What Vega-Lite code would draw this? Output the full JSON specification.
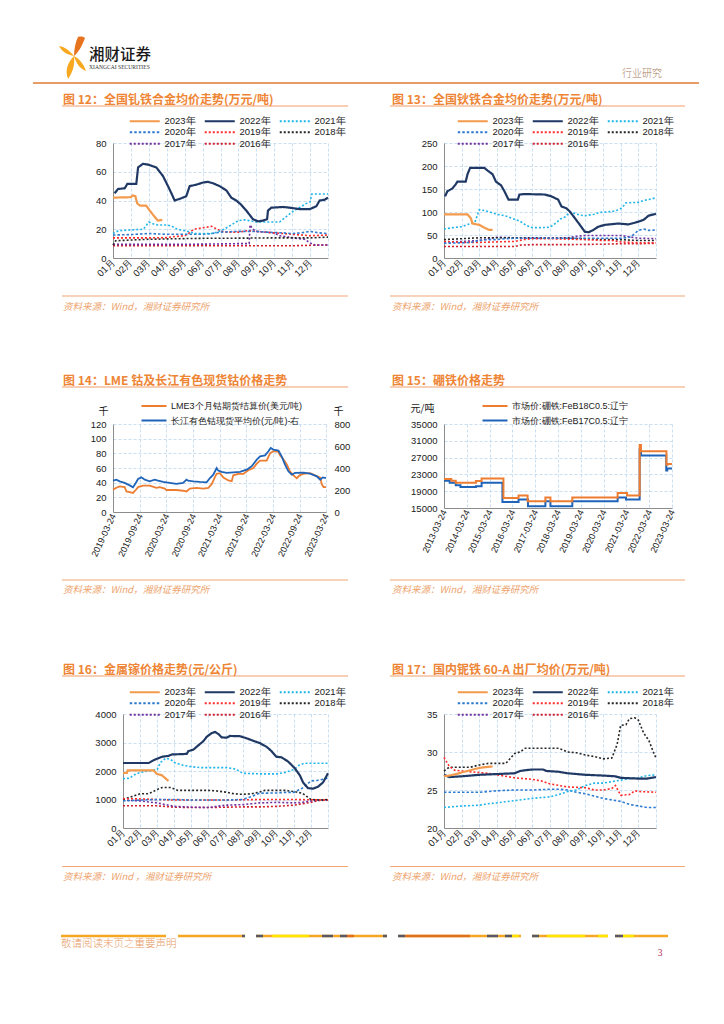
{
"$schema":"https://vega.github.io/schema/vega-lite/v6.json",
"background":"white",
"padding":0,
"autosize":{"type":"pad"},
"columns":2,
"bounds":"flush",
"spacing":{"row":0,"column":116},
"resolve":{"scale":{"color":"independent","strokeDash":"independent"},"legend":{"color":"independent","strokeDash":"independent"}},
"config":{
 "view":{"stroke":null},
 "font":"Liberation Sans",
 "axis":{"labelFont":"Liberation Sans","labelFontSize":9.5,"labelColor":"#1a1a1a","domainColor":"#8c8c8c","domainWidth":1,"ticks":false,"gridColor":"#BDD7EE","gridDash":[3,2],"gridWidth":0.8,"labelOverlap":false,"labelFlush":false,"titleFont":"Noto Sans CJK SC","titleFontWeight":"normal","titleFontSize":10,"titleColor":"#1a1a1a"},
 "legend":{"labelFont":"Liberation Sans","labelColor":"#1a1a1a"}
},
"datasets":{
"c12":[
{"m":1,"v":8.5,"s":"2016年"},{"m":3,"v":8.5,"s":"2016年"},{"m":5,"v":8.5,"s":"2016年"},{"m":7,"v":8.5,"s":"2016年"},{"m":9,"v":8.5,"s":"2016年"},{"m":11,"v":8.5,"s":"2016年"},{"m":12.5,"v":9,"s":"2016年"},{"m":13,"v":9,"s":"2016年"},
{"m":1,"v":9.5,"s":"2017年"},{"m":3,"v":9.5,"s":"2017年"},{"m":5,"v":9.5,"s":"2017年"},{"m":7,"v":9.8,"s":"2017年"},{"m":8,"v":10,"s":"2017年"},{"m":8.6,"v":10,"s":"2017年"},{"m":8.65,"v":23,"s":"2017年"},{"m":8.8,"v":20,"s":"2017年"},{"m":9,"v":18.5,"s":"2017年"},{"m":9.5,"v":18,"s":"2017年"},{"m":10,"v":17.5,"s":"2017年"},{"m":10.3,"v":15.5,"s":"2017年"},{"m":10.8,"v":14.5,"s":"2017年"},{"m":11.3,"v":13.5,"s":"2017年"},{"m":11.7,"v":13,"s":"2017年"},{"m":12,"v":10.5,"s":"2017年"},{"m":12.3,"v":9,"s":"2017年"},{"m":13,"v":9,"s":"2017年"},
{"m":1,"v":9,"s":"2018年"},{"m":1.15,"v":12,"s":"2018年"},{"m":2,"v":12.5,"s":"2018年"},{"m":3,"v":13,"s":"2018年"},{"m":4,"v":13.3,"s":"2018年"},{"m":5,"v":13.5,"s":"2018年"},{"m":6,"v":13.7,"s":"2018年"},{"m":8,"v":13.8,"s":"2018年"},{"m":10,"v":14,"s":"2018年"},{"m":12,"v":14,"s":"2018年"},{"m":13,"v":14.5,"s":"2018年"},
{"m":1,"v":14,"s":"2019年"},{"m":2,"v":14,"s":"2019年"},{"m":3,"v":14,"s":"2019年"},{"m":4,"v":14.2,"s":"2019年"},{"m":4.5,"v":15,"s":"2019年"},{"m":5,"v":15.5,"s":"2019年"},{"m":5.2,"v":17,"s":"2019年"},{"m":5.5,"v":20,"s":"2019年"},{"m":6,"v":21,"s":"2019年"},{"m":6.5,"v":22,"s":"2019年"},{"m":6.9,"v":19.5,"s":"2019年"},{"m":7.2,"v":18,"s":"2019年"},{"m":8,"v":18,"s":"2019年"},{"m":8.5,"v":19,"s":"2019年"},{"m":9,"v":18.5,"s":"2019年"},{"m":9.5,"v":18,"s":"2019年"},{"m":10,"v":17.5,"s":"2019年"},{"m":11,"v":16.5,"s":"2019年"},{"m":12,"v":15.5,"s":"2019年"},{"m":13,"v":16,"s":"2019年"},
{"m":1,"v":16,"s":"2020年"},{"m":2,"v":16.3,"s":"2020年"},{"m":3,"v":17,"s":"2020年"},{"m":4,"v":16.5,"s":"2020年"},{"m":5,"v":16.5,"s":"2020年"},{"m":6,"v":16.5,"s":"2020年"},{"m":6.5,"v":17,"s":"2020年"},{"m":7,"v":18,"s":"2020年"},{"m":8,"v":18.5,"s":"2020年"},{"m":9,"v":18.5,"s":"2020年"},{"m":9.5,"v":18,"s":"2020年"},{"m":10.5,"v":17.5,"s":"2020年"},{"m":11,"v":17,"s":"2020年"},{"m":11.5,"v":17.5,"s":"2020年"},{"m":12,"v":18.5,"s":"2020年"},{"m":12.5,"v":17.5,"s":"2020年"},{"m":13,"v":17,"s":"2020年"},
{"m":1,"v":17,"s":"2021年"},{"m":1.3,"v":19,"s":"2021年"},{"m":2,"v":19.5,"s":"2021年"},{"m":2.7,"v":20,"s":"2021年"},{"m":3,"v":25,"s":"2021年"},{"m":3.3,"v":23.5,"s":"2021年"},{"m":3.5,"v":23,"s":"2021年"},{"m":4,"v":23,"s":"2021年"},{"m":4.3,"v":22,"s":"2021年"},{"m":4.6,"v":20,"s":"2021年"},{"m":5,"v":19,"s":"2021年"},{"m":5.3,"v":18,"s":"2021年"},{"m":5.6,"v":17,"s":"2021年"},{"m":6.5,"v":17,"s":"2021年"},{"m":6.8,"v":18,"s":"2021年"},{"m":7.2,"v":20,"s":"2021年"},{"m":7.6,"v":23,"s":"2021年"},{"m":8,"v":26,"s":"2021年"},{"m":8.3,"v":26.5,"s":"2021年"},{"m":8.6,"v":26,"s":"2021年"},{"m":9,"v":25,"s":"2021年"},{"m":10.3,"v":25,"s":"2021年"},{"m":10.6,"v":28,"s":"2021年"},{"m":11,"v":32,"s":"2021年"},{"m":11.4,"v":35,"s":"2021年"},{"m":11.8,"v":38,"s":"2021年"},{"m":12,"v":39,"s":"2021年"},{"m":12.1,"v":44.5,"s":"2021年"},{"m":13,"v":44.5,"s":"2021年"},
{"m":1.09,"v":45,"s":"2022年"},{"m":1.28,"v":48,"s":"2022年"},{"m":1.65,"v":48.5,"s":"2022年"},{"m":1.8,"v":51.5,"s":"2022年"},{"m":2.3,"v":51.5,"s":"2022年"},{"m":2.4,"v":63,"s":"2022年"},{"m":2.67,"v":65.5,"s":"2022年"},{"m":2.95,"v":65,"s":"2022年"},{"m":3.42,"v":63,"s":"2022年"},{"m":3.79,"v":57,"s":"2022年"},{"m":4.07,"v":50,"s":"2022年"},{"m":4.26,"v":45,"s":"2022年"},{"m":4.44,"v":40,"s":"2022年"},{"m":4.81,"v":41.5,"s":"2022年"},{"m":5.09,"v":43,"s":"2022年"},{"m":5.28,"v":50,"s":"2022年"},{"m":5.65,"v":51,"s":"2022年"},{"m":6.02,"v":52.5,"s":"2022年"},{"m":6.3,"v":53,"s":"2022年"},{"m":6.58,"v":52,"s":"2022年"},{"m":6.95,"v":50,"s":"2022年"},{"m":7.33,"v":47,"s":"2022年"},{"m":7.6,"v":42,"s":"2022年"},{"m":7.88,"v":40,"s":"2022年"},{"m":8.16,"v":37,"s":"2022年"},{"m":8.44,"v":33,"s":"2022年"},{"m":8.81,"v":27,"s":"2022年"},{"m":9.09,"v":25.5,"s":"2022年"},{"m":9.37,"v":26,"s":"2022年"},{"m":9.6,"v":27,"s":"2022年"},{"m":9.65,"v":33,"s":"2022年"},{"m":9.84,"v":35,"s":"2022年"},{"m":10.49,"v":35.5,"s":"2022年"},{"m":10.86,"v":35,"s":"2022年"},{"m":11.42,"v":34,"s":"2022年"},{"m":11.98,"v":34,"s":"2022年"},{"m":12.35,"v":36,"s":"2022年"},{"m":12.53,"v":40,"s":"2022年"},{"m":12.81,"v":40.5,"s":"2022年"},{"m":13,"v":42,"s":"2022年"},
{"m":1,"v":42,"s":"2023年"},{"m":2,"v":42.3,"s":"2023年"},{"m":2.1,"v":43.5,"s":"2023年"},{"m":2.25,"v":43,"s":"2023年"},{"m":2.35,"v":38,"s":"2023年"},{"m":2.5,"v":36.5,"s":"2023年"},{"m":2.85,"v":36.5,"s":"2023年"},{"m":3.05,"v":33,"s":"2023年"},{"m":3.3,"v":29,"s":"2023年"},{"m":3.5,"v":26,"s":"2023年"},{"m":3.75,"v":26.5,"s":"2023年"}
],
"c13":[
{"m":1,"v":25,"s":"2016年"},{"m":3,"v":25,"s":"2016年"},{"m":5,"v":25,"s":"2016年"},{"m":5.3,"v":28,"s":"2016年"},{"m":6,"v":29,"s":"2016年"},{"m":8,"v":29,"s":"2016年"},{"m":10,"v":30,"s":"2016年"},{"m":11,"v":31,"s":"2016年"},{"m":12,"v":31,"s":"2016年"},{"m":13,"v":32,"s":"2016年"},
{"m":1,"v":35,"s":"2017年"},{"m":2,"v":36,"s":"2017年"},{"m":3,"v":38,"s":"2017年"},{"m":3.5,"v":42,"s":"2017年"},{"m":4,"v":45,"s":"2017年"},{"m":5,"v":44,"s":"2017年"},{"m":6,"v":44,"s":"2017年"},{"m":7,"v":44,"s":"2017年"},{"m":8,"v":44,"s":"2017年"},{"m":8.5,"v":47,"s":"2017年"},{"m":9,"v":49,"s":"2017年"},{"m":10,"v":49,"s":"2017年"},{"m":11,"v":49,"s":"2017年"},{"m":11.5,"v":46,"s":"2017年"},{"m":12,"v":43,"s":"2017年"},{"m":13,"v":42,"s":"2017年"},
{"m":1,"v":40,"s":"2018年"},{"m":2,"v":42,"s":"2018年"},{"m":3,"v":44,"s":"2018年"},{"m":4,"v":44,"s":"2018年"},{"m":5,"v":44,"s":"2018年"},{"m":6,"v":43,"s":"2018年"},{"m":7,"v":43,"s":"2018年"},{"m":8,"v":43,"s":"2018年"},{"m":9,"v":42,"s":"2018年"},{"m":10,"v":40,"s":"2018年"},{"m":11,"v":40,"s":"2018年"},{"m":12,"v":38,"s":"2018年"},{"m":13,"v":38,"s":"2018年"},
{"m":1,"v":36,"s":"2019年"},{"m":2,"v":34,"s":"2019年"},{"m":3,"v":34,"s":"2019年"},{"m":4,"v":35,"s":"2019年"},{"m":5,"v":36,"s":"2019年"},{"m":5.5,"v":40,"s":"2019年"},{"m":6,"v":42,"s":"2019年"},{"m":7,"v":42,"s":"2019年"},{"m":8,"v":41,"s":"2019年"},{"m":9,"v":40,"s":"2019年"},{"m":10,"v":38,"s":"2019年"},{"m":10.5,"v":38,"s":"2019年"},{"m":11,"v":35,"s":"2019年"},{"m":12,"v":33,"s":"2019年"},{"m":13,"v":33,"s":"2019年"},
{"m":1,"v":32,"s":"2020年"},{"m":2,"v":33,"s":"2020年"},{"m":2.5,"v":34,"s":"2020年"},{"m":3,"v":38,"s":"2020年"},{"m":3.5,"v":40,"s":"2020年"},{"m":4,"v":40,"s":"2020年"},{"m":4.5,"v":42,"s":"2020年"},{"m":5,"v":43,"s":"2020年"},{"m":7,"v":43,"s":"2020年"},{"m":9,"v":43,"s":"2020年"},{"m":11,"v":43,"s":"2020年"},{"m":11.5,"v":45,"s":"2020年"},{"m":11.7,"v":50,"s":"2020年"},{"m":12,"v":60,"s":"2020年"},{"m":12.3,"v":63,"s":"2020年"},{"m":12.6,"v":60,"s":"2020年"},{"m":13,"v":61,"s":"2020年"},
{"m":1,"v":63,"s":"2021年"},{"m":1.5,"v":66,"s":"2021年"},{"m":2,"v":68,"s":"2021年"},{"m":2.5,"v":75,"s":"2021年"},{"m":2.75,"v":78,"s":"2021年"},{"m":3,"v":105,"s":"2021年"},{"m":3.3,"v":103,"s":"2021年"},{"m":3.6,"v":100,"s":"2021年"},{"m":4,"v":95,"s":"2021年"},{"m":4.3,"v":93,"s":"2021年"},{"m":4.6,"v":90,"s":"2021年"},{"m":5,"v":84,"s":"2021年"},{"m":5.3,"v":80,"s":"2021年"},{"m":5.7,"v":70,"s":"2021年"},{"m":6,"v":66,"s":"2021年"},{"m":6.5,"v":66,"s":"2021年"},{"m":7,"v":67,"s":"2021年"},{"m":7.3,"v":75,"s":"2021年"},{"m":7.6,"v":85,"s":"2021年"},{"m":7.9,"v":90,"s":"2021年"},{"m":8.1,"v":100,"s":"2021年"},{"m":8.4,"v":97,"s":"2021年"},{"m":8.7,"v":93,"s":"2021年"},{"m":9,"v":92,"s":"2021年"},{"m":9.5,"v":95,"s":"2021年"},{"m":9.8,"v":99,"s":"2021年"},{"m":10.5,"v":101,"s":"2021年"},{"m":10.9,"v":105,"s":"2021年"},{"m":11.1,"v":110,"s":"2021年"},{"m":11.3,"v":120,"s":"2021年"},{"m":12,"v":121,"s":"2021年"},{"m":12.3,"v":125,"s":"2021年"},{"m":12.7,"v":128,"s":"2021年"},{"m":13,"v":131,"s":"2021年"},
{"m":1.06,"v":134,"s":"2022年"},{"m":1.19,"v":145,"s":"2022年"},{"m":1.47,"v":151,"s":"2022年"},{"m":1.66,"v":160,"s":"2022年"},{"m":1.76,"v":166,"s":"2022年"},{"m":2.23,"v":166,"s":"2022年"},{"m":2.33,"v":182,"s":"2022年"},{"m":2.48,"v":196,"s":"2022年"},{"m":3.28,"v":196,"s":"2022年"},{"m":3.47,"v":190,"s":"2022年"},{"m":3.75,"v":182,"s":"2022年"},{"m":3.94,"v":166,"s":"2022年"},{"m":4.23,"v":158,"s":"2022年"},{"m":4.42,"v":145,"s":"2022年"},{"m":4.65,"v":127,"s":"2022年"},{"m":5.18,"v":127,"s":"2022年"},{"m":5.27,"v":138,"s":"2022年"},{"m":5.56,"v":139,"s":"2022年"},{"m":6.7,"v":138,"s":"2022年"},{"m":7.08,"v":134,"s":"2022年"},{"m":7.46,"v":127,"s":"2022年"},{"m":7.65,"v":112,"s":"2022年"},{"m":7.93,"v":108,"s":"2022年"},{"m":8.12,"v":101,"s":"2022年"},{"m":8.4,"v":87,"s":"2022年"},{"m":8.69,"v":72,"s":"2022年"},{"m":8.97,"v":57,"s":"2022年"},{"m":9.2,"v":56,"s":"2022年"},{"m":9.45,"v":61,"s":"2022年"},{"m":9.73,"v":68,"s":"2022年"},{"m":10.11,"v":72,"s":"2022年"},{"m":10.87,"v":75,"s":"2022年"},{"m":11.44,"v":73,"s":"2022年"},{"m":12.01,"v":79,"s":"2022年"},{"m":12.3,"v":83,"s":"2022年"},{"m":12.58,"v":92,"s":"2022年"},{"m":13,"v":96,"s":"2022年"},
{"m":1,"v":95,"s":"2023年"},{"m":2.33,"v":95,"s":"2023年"},{"m":2.52,"v":86.5,"s":"2023年"},{"m":2.61,"v":75,"s":"2023年"},{"m":2.99,"v":72,"s":"2023年"},{"m":3.28,"v":66,"s":"2023年"},{"m":3.56,"v":61,"s":"2023年"},{"m":3.75,"v":61,"s":"2023年"}
],
"c16":[
{"m":1,"v":780,"s":"2016年"},{"m":3,"v":780,"s":"2016年"},{"m":4,"v":730,"s":"2016年"},{"m":5,"v":720,"s":"2016年"},{"m":6,"v":720,"s":"2016年"},{"m":7,"v":730,"s":"2016年"},{"m":8,"v":740,"s":"2016年"},{"m":9,"v":740,"s":"2016年"},{"m":10,"v":760,"s":"2016年"},{"m":11,"v":800,"s":"2016年"},{"m":12,"v":900,"s":"2016年"},{"m":12.5,"v":980,"s":"2016年"},{"m":13,"v":980,"s":"2016年"},
{"m":1,"v":980,"s":"2017年"},{"m":2,"v":950,"s":"2017年"},{"m":3,"v":880,"s":"2017年"},{"m":4,"v":760,"s":"2017年"},{"m":5,"v":730,"s":"2017年"},{"m":6,"v":720,"s":"2017年"},{"m":7,"v":800,"s":"2017年"},{"m":8,"v":820,"s":"2017年"},{"m":8.5,"v":850,"s":"2017年"},{"m":9,"v":880,"s":"2017年"},{"m":10,"v":900,"s":"2017年"},{"m":11,"v":880,"s":"2017年"},{"m":11.5,"v":900,"s":"2017年"},{"m":12,"v":950,"s":"2017年"},{"m":13,"v":980,"s":"2017年"},
{"m":1,"v":1000,"s":"2018年"},{"m":1.5,"v":1100,"s":"2018年"},{"m":2,"v":1200,"s":"2018年"},{"m":2.5,"v":1200,"s":"2018年"},{"m":3,"v":1350,"s":"2018年"},{"m":3.3,"v":1420,"s":"2018年"},{"m":3.8,"v":1420,"s":"2018年"},{"m":4.2,"v":1320,"s":"2018年"},{"m":5,"v":1320,"s":"2018年"},{"m":6,"v":1320,"s":"2018年"},{"m":6.5,"v":1300,"s":"2018年"},{"m":7,"v":1260,"s":"2018年"},{"m":7.5,"v":1200,"s":"2018年"},{"m":8,"v":1180,"s":"2018年"},{"m":8.5,"v":1200,"s":"2018年"},{"m":9,"v":1260,"s":"2018年"},{"m":9.3,"v":1320,"s":"2018年"},{"m":10,"v":1320,"s":"2018年"},{"m":10.5,"v":1320,"s":"2018年"},{"m":11,"v":1280,"s":"2018年"},{"m":11.5,"v":1220,"s":"2018年"},{"m":12,"v":1000,"s":"2018年"},{"m":12.5,"v":980,"s":"2018年"},{"m":13,"v":1000,"s":"2018年"},
{"m":1,"v":1030,"s":"2019年"},{"m":2,"v":1020,"s":"2019年"},{"m":3,"v":1000,"s":"2019年"},{"m":4,"v":980,"s":"2019年"},{"m":6,"v":980,"s":"2019年"},{"m":8,"v":990,"s":"2019年"},{"m":9,"v":1000,"s":"2019年"},{"m":11,"v":1000,"s":"2019年"},{"m":12,"v":990,"s":"2019年"},{"m":13,"v":980,"s":"2019年"},
{"m":1,"v":950,"s":"2020年"},{"m":2,"v":980,"s":"2020年"},{"m":3,"v":1000,"s":"2020年"},{"m":4,"v":1000,"s":"2020年"},{"m":5,"v":980,"s":"2020年"},{"m":7,"v":980,"s":"2020年"},{"m":8,"v":1000,"s":"2020年"},{"m":8.5,"v":1100,"s":"2020年"},{"m":9,"v":1220,"s":"2020年"},{"m":10,"v":1230,"s":"2020年"},{"m":10.5,"v":1250,"s":"2020年"},{"m":11,"v":1250,"s":"2020年"},{"m":11.5,"v":1400,"s":"2020年"},{"m":12,"v":1650,"s":"2020年"},{"m":12.5,"v":1680,"s":"2020年"},{"m":13,"v":1750,"s":"2020年"},
{"m":1,"v":1730,"s":"2021年"},{"m":1.4,"v":1750,"s":"2021年"},{"m":1.6,"v":1850,"s":"2021年"},{"m":2,"v":1950,"s":"2021年"},{"m":2.5,"v":2000,"s":"2021年"},{"m":3,"v":2050,"s":"2021年"},{"m":3.2,"v":2300,"s":"2021年"},{"m":3.5,"v":2450,"s":"2021年"},{"m":3.8,"v":2400,"s":"2021年"},{"m":4,"v":2300,"s":"2021年"},{"m":4.5,"v":2200,"s":"2021年"},{"m":5,"v":2150,"s":"2021年"},{"m":5.5,"v":2120,"s":"2021年"},{"m":7,"v":2120,"s":"2021年"},{"m":7.5,"v":2080,"s":"2021年"},{"m":7.8,"v":2000,"s":"2021年"},{"m":8,"v":1920,"s":"2021年"},{"m":9,"v":1900,"s":"2021年"},{"m":10,"v":1900,"s":"2021年"},{"m":10.5,"v":1950,"s":"2021年"},{"m":11,"v":2050,"s":"2021年"},{"m":11.3,"v":2200,"s":"2021年"},{"m":11.6,"v":2270,"s":"2021年"},{"m":13,"v":2270,"s":"2021年"},
{"m":1,"v":2280,"s":"2022年"},{"m":2.5,"v":2280,"s":"2022年"},{"m":2.79,"v":2380,"s":"2022年"},{"m":3.28,"v":2500,"s":"2022年"},{"m":3.66,"v":2530,"s":"2022年"},{"m":3.86,"v":2580,"s":"2022年"},{"m":4.73,"v":2600,"s":"2022年"},{"m":4.83,"v":2700,"s":"2022年"},{"m":5.12,"v":2750,"s":"2022年"},{"m":5.41,"v":2900,"s":"2022年"},{"m":5.71,"v":3050,"s":"2022年"},{"m":5.9,"v":3200,"s":"2022年"},{"m":6.19,"v":3330,"s":"2022年"},{"m":6.39,"v":3370,"s":"2022年"},{"m":6.58,"v":3300,"s":"2022年"},{"m":6.78,"v":3180,"s":"2022年"},{"m":7.07,"v":3170,"s":"2022年"},{"m":7.26,"v":3230,"s":"2022年"},{"m":7.85,"v":3220,"s":"2022年"},{"m":8.23,"v":3150,"s":"2022年"},{"m":8.62,"v":3060,"s":"2022年"},{"m":9.01,"v":2980,"s":"2022年"},{"m":9.4,"v":2850,"s":"2022年"},{"m":9.69,"v":2700,"s":"2022年"},{"m":9.98,"v":2500,"s":"2022年"},{"m":10.28,"v":2480,"s":"2022年"},{"m":10.67,"v":2330,"s":"2022年"},{"m":11.05,"v":2100,"s":"2022年"},{"m":11.35,"v":1850,"s":"2022年"},{"m":11.54,"v":1600,"s":"2022年"},{"m":11.83,"v":1400,"s":"2022年"},{"m":12.12,"v":1380,"s":"2022年"},{"m":12.42,"v":1450,"s":"2022年"},{"m":12.71,"v":1600,"s":"2022年"},{"m":13,"v":1920,"s":"2022年"},
{"m":1,"v":1930,"s":"2023年"},{"m":1.23,"v":1930,"s":"2023年"},{"m":1.27,"v":2020,"s":"2023年"},{"m":2.79,"v":2020,"s":"2023年"},{"m":2.98,"v":1900,"s":"2023年"},{"m":3.28,"v":1850,"s":"2023年"},{"m":3.47,"v":1750,"s":"2023年"},{"m":3.66,"v":1650,"s":"2023年"}
],
"c17":[
{"m":1,"v":27.5,"s":"2018年"},{"m":1.3,"v":28,"s":"2018年"},{"m":2.5,"v":28,"s":"2018年"},{"m":3,"v":28.3,"s":"2018年"},{"m":3.5,"v":28.5,"s":"2018年"},{"m":4.5,"v":28.5,"s":"2018年"},{"m":5,"v":29.8,"s":"2018年"},{"m":5.3,"v":30,"s":"2018年"},{"m":5.6,"v":30.5,"s":"2018年"},{"m":7.5,"v":30.5,"s":"2018年"},{"m":8,"v":30,"s":"2018年"},{"m":8.5,"v":29.9,"s":"2018年"},{"m":9,"v":29.6,"s":"2018年"},{"m":9.5,"v":29.4,"s":"2018年"},{"m":10,"v":29.1,"s":"2018年"},{"m":10.5,"v":29.2,"s":"2018年"},{"m":10.8,"v":31,"s":"2018年"},{"m":11,"v":33.5,"s":"2018年"},{"m":11.3,"v":33.6,"s":"2018年"},{"m":11.5,"v":34.4,"s":"2018年"},{"m":11.8,"v":34.5,"s":"2018年"},{"m":12,"v":34.2,"s":"2018年"},{"m":12.3,"v":32.5,"s":"2018年"},{"m":12.6,"v":31.5,"s":"2018年"},{"m":12.85,"v":30,"s":"2018年"},{"m":13,"v":29.2,"s":"2018年"},
{"m":1,"v":29.3,"s":"2019年"},{"m":1.3,"v":28.1,"s":"2019年"},{"m":1.6,"v":27.6,"s":"2019年"},{"m":2,"v":27.5,"s":"2019年"},{"m":3,"v":27.3,"s":"2019年"},{"m":3.5,"v":27.2,"s":"2019年"},{"m":4,"v":27,"s":"2019年"},{"m":4.5,"v":26.8,"s":"2019年"},{"m":5,"v":26.6,"s":"2019年"},{"m":5.5,"v":26.5,"s":"2019年"},{"m":6,"v":26.4,"s":"2019年"},{"m":6.5,"v":26.2,"s":"2019年"},{"m":7,"v":25.8,"s":"2019年"},{"m":7.5,"v":25.6,"s":"2019年"},{"m":8,"v":25.4,"s":"2019年"},{"m":9,"v":25.3,"s":"2019年"},{"m":9.5,"v":25,"s":"2019年"},{"m":10,"v":25,"s":"2019年"},{"m":10.5,"v":25.2,"s":"2019年"},{"m":10.7,"v":25.6,"s":"2019年"},{"m":11,"v":24.3,"s":"2019年"},{"m":11.5,"v":24.4,"s":"2019年"},{"m":11.8,"v":24.9,"s":"2019年"},{"m":12,"v":24.8,"s":"2019年"},{"m":13,"v":24.7,"s":"2019年"},
{"m":1,"v":24.7,"s":"2020年"},{"m":3,"v":24.7,"s":"2020年"},{"m":4,"v":24.9,"s":"2020年"},{"m":5,"v":25,"s":"2020年"},{"m":6,"v":25,"s":"2020年"},{"m":7,"v":25.1,"s":"2020年"},{"m":7.5,"v":25.1,"s":"2020年"},{"m":8,"v":25,"s":"2020年"},{"m":8.5,"v":24.7,"s":"2020年"},{"m":9,"v":24.5,"s":"2020年"},{"m":9.5,"v":24.2,"s":"2020年"},{"m":10,"v":23.9,"s":"2020年"},{"m":10.5,"v":23.7,"s":"2020年"},{"m":11,"v":23.5,"s":"2020年"},{"m":11.5,"v":23.1,"s":"2020年"},{"m":12,"v":22.9,"s":"2020年"},{"m":12.5,"v":22.7,"s":"2020年"},{"m":13,"v":22.7,"s":"2020年"},
{"m":1,"v":22.7,"s":"2021年"},{"m":2,"v":22.9,"s":"2021年"},{"m":3,"v":23,"s":"2021年"},{"m":3.5,"v":23.2,"s":"2021年"},{"m":4,"v":23.3,"s":"2021年"},{"m":5,"v":23.6,"s":"2021年"},{"m":6,"v":23.9,"s":"2021年"},{"m":7,"v":24.1,"s":"2021年"},{"m":7.5,"v":24.4,"s":"2021年"},{"m":8,"v":24.8,"s":"2021年"},{"m":8.5,"v":25,"s":"2021年"},{"m":9,"v":25.6,"s":"2021年"},{"m":9.5,"v":25.9,"s":"2021年"},{"m":10,"v":25.9,"s":"2021年"},{"m":10.5,"v":26.1,"s":"2021年"},{"m":11,"v":26.3,"s":"2021年"},{"m":11.5,"v":26.5,"s":"2021年"},{"m":12,"v":26.6,"s":"2021年"},{"m":12.5,"v":26.9,"s":"2021年"},{"m":13,"v":27,"s":"2021年"},
{"m":1,"v":27,"s":"2022年"},{"m":1.3,"v":26.7,"s":"2022年"},{"m":2,"v":26.8,"s":"2022年"},{"m":2.5,"v":26.9,"s":"2022年"},{"m":3,"v":27,"s":"2022年"},{"m":4,"v":27.1,"s":"2022年"},{"m":5,"v":27.2,"s":"2022年"},{"m":5.3,"v":27.5,"s":"2022年"},{"m":5.6,"v":27.6,"s":"2022年"},{"m":6,"v":27.7,"s":"2022年"},{"m":6.6,"v":27.7,"s":"2022年"},{"m":6.8,"v":27.5,"s":"2022年"},{"m":7.5,"v":27.4,"s":"2022年"},{"m":8,"v":27.2,"s":"2022年"},{"m":9,"v":27,"s":"2022年"},{"m":10,"v":26.9,"s":"2022年"},{"m":10.7,"v":26.8,"s":"2022年"},{"m":11,"v":26.6,"s":"2022年"},{"m":12,"v":26.5,"s":"2022年"},{"m":12.5,"v":26.5,"s":"2022年"},{"m":13,"v":26.7,"s":"2022年"},
{"m":1,"v":26.8,"s":"2023年"},{"m":1.3,"v":26.9,"s":"2023年"},{"m":1.7,"v":27.1,"s":"2023年"},{"m":2,"v":27.3,"s":"2023年"},{"m":2.5,"v":27.6,"s":"2023年"},{"m":3,"v":27.9,"s":"2023年"},{"m":3.3,"v":28,"s":"2023年"},{"m":3.75,"v":28.1,"s":"2023年"}
],
"c14":[
{"d":"2019-03-24","v":285,"s":"CJ"},{"d":"2019-04-16","v":294,"s":"CJ"},{"d":"2019-05-09","v":279,"s":"CJ"},{"d":"2019-06-12","v":264,"s":"CJ"},{"d":"2019-07-17","v":242,"s":"CJ"},{"d":"2019-08-08","v":224,"s":"CJ"},{"d":"2019-08-27","v":264,"s":"CJ"},{"d":"2019-09-12","v":300,"s":"CJ"},{"d":"2019-10-05","v":315,"s":"CJ"},{"d":"2019-10-28","v":294,"s":"CJ"},{"d":"2019-12-01","v":279,"s":"CJ"},{"d":"2020-01-04","v":294,"s":"CJ"},{"d":"2020-01-27","v":285,"s":"CJ"},{"d":"2020-03-02","v":273,"s":"CJ"},{"d":"2020-04-16","v":264,"s":"CJ"},{"d":"2020-06-01","v":255,"s":"CJ"},{"d":"2020-07-17","v":264,"s":"CJ"},{"d":"2020-08-09","v":294,"s":"CJ"},{"d":"2020-08-20","v":285,"s":"CJ"},{"d":"2020-09-24","v":279,"s":"CJ"},{"d":"2020-11-09","v":273,"s":"CJ"},{"d":"2020-12-25","v":270,"s":"CJ"},{"d":"2021-01-17","v":309,"s":"CJ"},{"d":"2021-02-09","v":339,"s":"CJ"},{"d":"2021-03-04","v":400,"s":"CJ"},{"d":"2021-03-15","v":376,"s":"CJ"},{"d":"2021-04-07","v":364,"s":"CJ"},{"d":"2021-05-12","v":355,"s":"CJ"},{"d":"2021-06-26","v":361,"s":"CJ"},{"d":"2021-08-11","v":364,"s":"CJ"},{"d":"2021-09-26","v":385,"s":"CJ"},{"d":"2021-10-30","v":415,"s":"CJ"},{"d":"2021-12-04","v":476,"s":"CJ"},{"d":"2021-12-27","v":506,"s":"CJ"},{"d":"2022-01-30","v":515,"s":"CJ"},{"d":"2022-02-22","v":552,"s":"CJ"},{"d":"2022-03-10","v":582,"s":"CJ"},{"d":"2022-03-28","v":567,"s":"CJ"},{"d":"2022-05-02","v":558,"s":"CJ"},{"d":"2022-05-24","v":506,"s":"CJ"},{"d":"2022-06-16","v":430,"s":"CJ"},{"d":"2022-07-09","v":370,"s":"CJ"},{"d":"2022-08-01","v":339,"s":"CJ"},{"d":"2022-08-24","v":355,"s":"CJ"},{"d":"2022-10-20","v":358,"s":"CJ"},{"d":"2022-12-05","v":348,"s":"CJ"},{"d":"2023-01-20","v":324,"s":"CJ"},{"d":"2023-02-12","v":294,"s":"CJ"},{"d":"2023-03-02","v":315,"s":"CJ"},{"d":"2023-03-24","v":309,"s":"CJ"},
{"d":"2019-03-24","v":30.5,"s":"LME"},{"d":"2019-04-16","v":33,"s":"LME"},{"d":"2019-05-09","v":35,"s":"LME"},{"d":"2019-06-12","v":34,"s":"LME"},{"d":"2019-06-24","v":28,"s":"LME"},{"d":"2019-07-17","v":27,"s":"LME"},{"d":"2019-08-08","v":26,"s":"LME"},{"d":"2019-08-27","v":30,"s":"LME"},{"d":"2019-09-12","v":34,"s":"LME"},{"d":"2019-10-16","v":36,"s":"LME"},{"d":"2019-12-01","v":36,"s":"LME"},{"d":"2020-01-16","v":33,"s":"LME"},{"d":"2020-02-08","v":34,"s":"LME"},{"d":"2020-03-13","v":32,"s":"LME"},{"d":"2020-03-24","v":30,"s":"LME"},{"d":"2020-06-01","v":30,"s":"LME"},{"d":"2020-07-17","v":29,"s":"LME"},{"d":"2020-08-09","v":28,"s":"LME"},{"d":"2020-09-01","v":32,"s":"LME"},{"d":"2020-10-17","v":33,"s":"LME"},{"d":"2020-12-02","v":32,"s":"LME"},{"d":"2021-01-06","v":33,"s":"LME"},{"d":"2021-01-29","v":38,"s":"LME"},{"d":"2021-02-21","v":48,"s":"LME"},{"d":"2021-03-04","v":52,"s":"LME"},{"d":"2021-03-27","v":53,"s":"LME"},{"d":"2021-04-19","v":47,"s":"LME"},{"d":"2021-05-23","v":43,"s":"LME"},{"d":"2021-06-15","v":42,"s":"LME"},{"d":"2021-06-26","v":50,"s":"LME"},{"d":"2021-07-31","v":52,"s":"LME"},{"d":"2021-09-03","v":52,"s":"LME"},{"d":"2021-10-07","v":57,"s":"LME"},{"d":"2021-11-11","v":60,"s":"LME"},{"d":"2021-12-04","v":66,"s":"LME"},{"d":"2021-12-27","v":70,"s":"LME"},{"d":"2022-02-10","v":70,"s":"LME"},{"d":"2022-03-05","v":80,"s":"LME"},{"d":"2022-03-28","v":83,"s":"LME"},{"d":"2022-05-02","v":82,"s":"LME"},{"d":"2022-05-13","v":77,"s":"LME"},{"d":"2022-06-05","v":72,"s":"LME"},{"d":"2022-06-28","v":65,"s":"LME"},{"d":"2022-07-21","v":55,"s":"LME"},{"d":"2022-08-13","v":50,"s":"LME"},{"d":"2022-09-05","v":46,"s":"LME"},{"d":"2022-09-23","v":50,"s":"LME"},{"d":"2022-10-20","v":52,"s":"LME"},{"d":"2022-12-05","v":53,"s":"LME"},{"d":"2023-01-20","v":49,"s":"LME"},{"d":"2023-02-12","v":47,"s":"LME"},{"d":"2023-02-23","v":38,"s":"LME"},{"d":"2023-03-07","v":34,"s":"LME"},{"d":"2023-03-24","v":34,"s":"LME"}
],
"c15":[
{"d":"2013-03-24","v":21500,"s":"B17"},{"d":"2013-06-23","v":21000,"s":"B17"},{"d":"2013-09-28","v":20400,"s":"B17"},{"d":"2013-12-13","v":20000,"s":"B17"},{"d":"2014-08-17","v":20200,"s":"B17"},{"d":"2014-11-16","v":21000,"s":"B17"},{"d":"2015-10-16","v":16400,"s":"B17"},{"d":"2016-06-30","v":17000,"s":"B17"},{"d":"2016-11-28","v":15400,"s":"B17"},{"d":"2017-09-03","v":16600,"s":"B17"},{"d":"2017-11-23","v":15400,"s":"B17"},{"d":"2018-11-08","v":16600,"s":"B17"},{"d":"2020-11-03","v":17500,"s":"B17"},{"d":"2021-03-17","v":17000,"s":"B17"},{"d":"2021-10-22","v":29000,"s":"B17"},{"d":"2021-11-12","v":27500,"s":"B17"},{"d":"2022-12-22","v":23900,"s":"B17"},{"d":"2023-01-07","v":24400,"s":"B17"},{"d":"2023-03-24","v":24400,"s":"B17"},
{"d":"2013-03-24","v":21900,"s":"B18"},{"d":"2013-07-20","v":21500,"s":"B18"},{"d":"2013-09-28","v":21000,"s":"B18"},{"d":"2014-08-17","v":21400,"s":"B18"},{"d":"2014-11-16","v":22000,"s":"B18"},{"d":"2015-11-01","v":17400,"s":"B18"},{"d":"2016-06-30","v":18000,"s":"B18"},{"d":"2016-11-22","v":16600,"s":"B18"},{"d":"2017-09-03","v":17500,"s":"B18"},{"d":"2017-11-23","v":16600,"s":"B18"},{"d":"2018-11-08","v":17500,"s":"B18"},{"d":"2020-11-03","v":18600,"s":"B18"},{"d":"2021-04-03","v":18000,"s":"B18"},{"d":"2021-10-22","v":30000,"s":"B18"},{"d":"2021-11-12","v":28500,"s":"B18"},{"d":"2022-12-25","v":25300,"s":"B18"},{"d":"2023-01-10","v":25500,"s":"B18"},{"d":"2023-03-24","v":25500,"s":"B18"}
]
},
"concat":[
{"width":215,"height":106,"data":{"values":[{}]},"layer":[
 {"mark":{"type":"rule","color":"#ffffff","strokeOpacity":0,"strokeWidth":0.5},"encoding":{"x":{"datum":-113,"type":"quantitative","scale":{"domain":[0,215],"nice":false,"zero":false},"axis":null},"x2":{"datum":-80},"y":{"datum":0,"type":"quantitative","scale":{"domain":[106,0],"nice":false,"zero":false},"axis":null}}},
 {"mark":{"type":"rule","color":"#E07B39","strokeWidth":1.5},"encoding":{"x":{"datum":-80,"type":"quantitative","scale":{"domain":[0,215],"nice":false,"zero":false},"axis":null},"x2":{"datum":586},"y":{"datum":83,"type":"quantitative","scale":{"domain":[106,0],"nice":false,"zero":false},"axis":null}}},
 {"mark":{"type":"point","shape":"M0.2,-0.95 C0.35,-1 0.5,-0.95 0.55,-0.9 C0.4,-0.5 0.2,-0.15 0,0 C0,-0.35 0.08,-0.7 0.2,-0.95 Z","size":1600,"filled":true,"color":"#E8731E","opacity":1,"strokeWidth":0},"encoding":{"x":{"datum":-39,"type":"quantitative","scale":{"domain":[0,215],"nice":false,"zero":false},"axis":null},"y":{"datum":56,"type":"quantitative","scale":{"domain":[106,0],"nice":false,"zero":false},"axis":null}}},
 {"mark":{"type":"point","shape":"M-0.75,-0.5 C-0.45,-0.45 -0.2,-0.25 0,0 C-0.3,-0.05 -0.6,-0.2 -0.75,-0.5 Z M0,0 C0.05,0.4 -0.05,0.8 -0.3,1.15 C-0.45,0.75 -0.35,0.35 0,0 Z M0,0 C0.3,0.15 0.5,0.45 0.6,0.75 C0.3,0.65 0.1,0.35 0,0 Z","size":1600,"filled":true,"color":"#F8A81F","opacity":1,"strokeWidth":0},"encoding":{"x":{"datum":-39,"type":"quantitative","scale":{"domain":[0,215],"nice":false,"zero":false},"axis":null},"y":{"datum":56,"type":"quantitative","scale":{"domain":[106,0],"nice":false,"zero":false},"axis":null}}},
 {"mark":{"type":"text","text":"湘财证券","align":"left","baseline":"middle","fontSize":15.5,"font":"Noto Sans CJK SC","fontWeight":500,"color":"#1a1a1a"},"encoding":{"x":{"datum":-24,"type":"quantitative","scale":{"domain":[0,215],"nice":false,"zero":false},"axis":null},"y":{"datum":55,"type":"quantitative","scale":{"domain":[106,0],"nice":false,"zero":false},"axis":null}}},
 {"mark":{"type":"text","text":"XIANGCAI SECURITIES","align":"left","baseline":"middle","fontSize":5.6,"font":"Liberation Sans Narrow","color":"#333333"},"encoding":{"x":{"datum":-24,"type":"quantitative","scale":{"domain":[0,215],"nice":false,"zero":false},"axis":null},"y":{"datum":66.5,"type":"quantitative","scale":{"domain":[106,0],"nice":false,"zero":false},"axis":null}}}
]},
{"width":212,"height":106,"data":{"values":[{}]},"mark":{"type":"text","text":"行业研究","align":"center","baseline":"middle","fontSize":10,"font":"Noto Sans CJK SC","fontWeight":300,"color":"#A67C5B"},"encoding":{"x":{"datum":198,"type":"quantitative","scale":{"domain":[0,212],"nice":false,"zero":false},"axis":null},"y":{"datum":74,"type":"quantitative","scale":{"domain":[106,0],"nice":false,"zero":false},"axis":null}}},

{"width":215,"height":37,"data":{"values":[{}]},"layer":[
 {"mark":{"type":"rule","color":"#F2A06A","strokeWidth":1.2},"encoding":{"x":{"datum":-51,"type":"quantitative","scale":{"domain":[0,215],"nice":false,"zero":false},"axis":null},"x2":{"datum":235},"y":{"datum":0,"type":"quantitative","scale":{"domain":[37,0],"nice":false,"zero":false},"axis":null}}},
 {"mark":{"type":"text","text":"图 12：全国钆铁合金均价走势(万元/吨)","align":"left","baseline":"middle","fontSize":12,"fontWeight":"bold","font":"Noto Sans CJK SC","color":"#EE8535"},"encoding":{"x":{"datum":-50,"type":"quantitative","scale":{"domain":[0,215],"nice":false,"zero":false},"axis":null},"y":{"datum":-6,"type":"quantitative","scale":{"domain":[37,0],"nice":false,"zero":false},"axis":null}}}
]},
{"width":212,"height":37,"data":{"values":[{}]},"layer":[
 {"mark":{"type":"rule","color":"#F2A06A","strokeWidth":1.2},"encoding":{"x":{"datum":-54,"type":"quantitative","scale":{"domain":[0,212],"nice":false,"zero":false},"axis":null},"x2":{"datum":241},"y":{"datum":0,"type":"quantitative","scale":{"domain":[37,0],"nice":false,"zero":false},"axis":null}}},
 {"mark":{"type":"text","text":"图 13：全国钬铁合金均价走势(万元/吨)","align":"left","baseline":"middle","fontSize":12,"fontWeight":"bold","font":"Noto Sans CJK SC","color":"#EE8535"},"encoding":{"x":{"datum":-52,"type":"quantitative","scale":{"domain":[0,212],"nice":false,"zero":false},"axis":null},"y":{"datum":-6,"type":"quantitative","scale":{"domain":[37,0],"nice":false,"zero":false},"axis":null}}}
]},

{"width":215,"height":115,"data":{"name":"c12"},
 "encoding":{
  "x":{"field":"m","type":"quantitative","scale":{"domain":[1,13],"nice":false,"zero":false},"axis":{"values":[1,2,3,4,5,6,7,8,9,10,11,12,13],"labelExpr":"datum.value < 13 ? (datum.value < 10 ? '0' : '') + datum.value + '月' : ''","labelAngle":-45,"labelAlign":"right","labelBaseline":"middle","grid":true,"title":null,"labelPadding":2}},
  "y":{"field":"v","type":"quantitative","scale":{"domain":[0,80],"nice":false,"zero":false},"axis":{"values":[0,20,40,60,80],"grid":true,"title":null,"labelPadding":7}},
  "color":{"field":"s","type":"nominal","scale":{"domain":["2023年","2022年","2021年","2020年","2019年","2018年","2017年","2016年"],"range":["#F39A4C","#1F3864","#22B5E8","#2E7BCF","#FF2A2A","#262626","#7030A0","#D0202E"]},"legend":{"orient":"none","legendX":12,"legendY":-27,"columns":3,"direction":"horizontal","symbolType":"M0,0L12,0","symbolSize":25,"symbolStrokeWidth":2,"symbolFillColor":"transparent","labelFontSize":9.5,"labelOffset":30,"columnPadding":4,"rowPadding":0.5,"title":null,"padding":0,"labelLimit":200}},
  "strokeDash":{"field":"s","type":"nominal","scale":{"domain":["2023年","2022年","2021年","2020年","2019年","2018年","2017年","2016年"],"range":[[1,0],[1,0],[2,2],[2.5,2],[2,2],[2,2],[2,2],[2,2]]},"legend":{"orient":"none","legendX":12,"legendY":-27,"columns":3,"direction":"horizontal","symbolType":"M0,0L12,0","symbolSize":25,"symbolStrokeWidth":2,"symbolFillColor":"transparent","labelFontSize":9.5,"labelOffset":30,"columnPadding":4,"rowPadding":0.5,"title":null,"padding":0,"labelLimit":200}}
 },
 "layer":[
  {"transform":[{"filter":"datum.s != '2023年' && datum.s != '2022年'"}],"mark":{"type":"line","strokeWidth":1.6,"strokeCap":"butt"}},
  {"transform":[{"filter":"datum.s == '2023年' || datum.s == '2022年'"}],"mark":{"type":"line","strokeWidth":2.2}}
 ]
},
{"width":212,"height":115,"data":{"name":"c13"},
 "encoding":{
  "x":{"field":"m","type":"quantitative","scale":{"domain":[1,13],"nice":false,"zero":false},"axis":{"values":[1,2,3,4,5,6,7,8,9,10,11,12,13],"labelExpr":"datum.value < 13 ? (datum.value < 10 ? '0' : '') + datum.value + '月' : ''","labelAngle":-45,"labelAlign":"right","labelBaseline":"middle","grid":true,"title":null,"labelPadding":2}},
  "y":{"field":"v","type":"quantitative","scale":{"domain":[0,250],"nice":false,"zero":false},"axis":{"values":[0,50,100,150,200,250],"grid":true,"title":null,"labelPadding":7}},
  "color":{"field":"s","type":"nominal","scale":{"domain":["2023年","2022年","2021年","2020年","2019年","2018年","2017年","2016年"],"range":["#F39A4C","#1F3864","#22B5E8","#2E7BCF","#FF2A2A","#262626","#7030A0","#D0202E"]},"legend":{"orient":"none","legendX":9,"legendY":-27,"columns":3,"direction":"horizontal","symbolType":"M0,0L12,0","symbolSize":25,"symbolStrokeWidth":2,"symbolFillColor":"transparent","labelFontSize":9.5,"labelOffset":30,"columnPadding":4,"rowPadding":0.5,"title":null,"padding":0,"labelLimit":200}},
  "strokeDash":{"field":"s","type":"nominal","scale":{"domain":["2023年","2022年","2021年","2020年","2019年","2018年","2017年","2016年"],"range":[[1,0],[1,0],[2,2],[2.5,2],[2,2],[2,2],[2,2],[2,2]]},"legend":{"orient":"none","legendX":9,"legendY":-27,"columns":3,"direction":"horizontal","symbolType":"M0,0L12,0","symbolSize":25,"symbolStrokeWidth":2,"symbolFillColor":"transparent","labelFontSize":9.5,"labelOffset":30,"columnPadding":4,"rowPadding":0.5,"title":null,"padding":0,"labelLimit":200}}
 },
 "layer":[
  {"transform":[{"filter":"datum.s != '2023年' && datum.s != '2022年'"}],"mark":{"type":"line","strokeWidth":1.6,"strokeCap":"butt"}},
  {"transform":[{"filter":"datum.s == '2023年' || datum.s == '2022年'"}],"mark":{"type":"line","strokeWidth":2.2}}
 ]
},

{"width":215,"height":129,"data":{"values":[{}]},"layer":[
 {"mark":{"type":"rule","color":"#F2A774","strokeWidth":1.2},"encoding":{"x":{"datum":-51,"type":"quantitative","scale":{"domain":[0,215],"nice":false,"zero":false},"axis":null},"x2":{"datum":235},"y":{"datum":38,"type":"quantitative","scale":{"domain":[129,0],"nice":false,"zero":false},"axis":null}}},
 {"mark":{"type":"text","text":"资料来源：Wind，湘财证券研究所","align":"left","baseline":"middle","fontSize":9.5,"fontStyle":"italic","font":"Noto Sans CJK SC","color":"#EDA46E"},"encoding":{"x":{"datum":-50,"type":"quantitative","scale":{"domain":[0,215],"nice":false,"zero":false},"axis":null},"y":{"datum":48.5,"type":"quantitative","scale":{"domain":[129,0],"nice":false,"zero":false},"axis":null}}}
]},
{"width":212,"height":129,"data":{"values":[{}]},"layer":[
 {"mark":{"type":"rule","color":"#F2A774","strokeWidth":1.2},"encoding":{"x":{"datum":-54,"type":"quantitative","scale":{"domain":[0,212],"nice":false,"zero":false},"axis":null},"x2":{"datum":241},"y":{"datum":38,"type":"quantitative","scale":{"domain":[129,0],"nice":false,"zero":false},"axis":null}}},
 {"mark":{"type":"text","text":"资料来源：Wind，湘财证券研究所","align":"left","baseline":"middle","fontSize":9.5,"fontStyle":"italic","font":"Noto Sans CJK SC","color":"#EDA46E"},"encoding":{"x":{"datum":-52,"type":"quantitative","scale":{"domain":[0,212],"nice":false,"zero":false},"axis":null},"y":{"datum":48.5,"type":"quantitative","scale":{"domain":[129,0],"nice":false,"zero":false},"axis":null}}}
]},

{"width":215,"height":37,"data":{"values":[{}]},"layer":[
 {"mark":{"type":"rule","color":"#F2A06A","strokeWidth":1.2},"encoding":{"x":{"datum":-51,"type":"quantitative","scale":{"domain":[0,215],"nice":false,"zero":false},"axis":null},"x2":{"datum":235},"y":{"datum":0,"type":"quantitative","scale":{"domain":[37,0],"nice":false,"zero":false},"axis":null}}},
 {"mark":{"type":"text","text":"图 14：LME 钴及长江有色现货钴价格走势","align":"left","baseline":"middle","fontSize":12,"fontWeight":"bold","font":"Noto Sans CJK SC","color":"#EE8535"},"encoding":{"x":{"datum":-50,"type":"quantitative","scale":{"domain":[0,215],"nice":false,"zero":false},"axis":null},"y":{"datum":-6,"type":"quantitative","scale":{"domain":[37,0],"nice":false,"zero":false},"axis":null}}}
]},
{"width":212,"height":37,"data":{"values":[{}]},"layer":[
 {"mark":{"type":"rule","color":"#F2A06A","strokeWidth":1.2},"encoding":{"x":{"datum":-54,"type":"quantitative","scale":{"domain":[0,212],"nice":false,"zero":false},"axis":null},"x2":{"datum":241},"y":{"datum":0,"type":"quantitative","scale":{"domain":[37,0],"nice":false,"zero":false},"axis":null}}},
 {"mark":{"type":"text","text":"图 15：硼铁价格走势","align":"left","baseline":"middle","fontSize":12,"fontWeight":"bold","font":"Noto Sans CJK SC","color":"#EE8535"},"encoding":{"x":{"datum":-52,"type":"quantitative","scale":{"domain":[0,212],"nice":false,"zero":false},"axis":null},"y":{"datum":-6,"type":"quantitative","scale":{"domain":[37,0],"nice":false,"zero":false},"axis":null}}}
]},

{"width":213,"height":88,"data":{"name":"c14"},
 "encoding":{
  "x":{"field":"d","type":"temporal","scale":{"type":"utc","domain":[{"year":2019,"month":3,"date":24,"utc":true},{"year":2023,"month":3,"date":24,"utc":true}]},"axis":{"values":[{"year":2019,"month":3,"date":24,"utc":true},{"year":2019,"month":9,"date":24,"utc":true},{"year":2020,"month":3,"date":24,"utc":true},{"year":2020,"month":9,"date":24,"utc":true},{"year":2021,"month":3,"date":24,"utc":true},{"year":2021,"month":9,"date":24,"utc":true},{"year":2022,"month":3,"date":24,"utc":true},{"year":2022,"month":9,"date":24,"utc":true},{"year":2023,"month":3,"date":24,"utc":true}],"format":"%Y-%m-%d","labelAngle":-65,"labelAlign":"right","labelBaseline":"middle","labelFontSize":9,"grid":true,"title":null,"labelPadding":2}},
  "color":{"field":"s","type":"nominal","scale":{"domain":["LME","CJ"],"range":["#ED7D31","#1F64B8"]},"legend":{"orient":"none","legendX":24,"legendY":-22.5,"columns":1,"symbolType":"M0,0L10,0","symbolSize":25,"symbolStrokeWidth":2,"symbolFillColor":"transparent","labelFontSize":9,"labelOffset":25,"rowPadding":4.5,"title":null,"padding":0,"labelLimit":300,"labelExpr":"datum.label == 'LME' ? 'LME3个月钴期货结算价(美元/吨)' : '长江有色钴现货平均价(元/吨)-右'"}}
 },
 "layer":[
  {"transform":[{"filter":"datum.s == 'LME'"}],"mark":{"type":"line","strokeWidth":1.8},"encoding":{"y":{"field":"v","type":"quantitative","scale":{"domain":[0,120],"nice":false,"zero":false},"axis":{"orient":"left","values":[0,20,40,60,80,100,120],"grid":true,"labelPadding":7,"title":"千","titleAngle":0,"titleX":-10,"titleY":-13,"titleAlign":"center","titleBaseline":"middle"}}}},
  {"transform":[{"filter":"datum.s == 'CJ'"}],"mark":{"type":"line","strokeWidth":1.8},"encoding":{"y":{"field":"v","type":"quantitative","scale":{"domain":[0,800],"nice":false,"zero":false},"axis":{"orient":"right","values":[0,200,400,600,800],"grid":false,"domain":false,"labelPadding":8,"title":"千","titleAngle":0,"titleX":12,"titleY":-13,"titleAlign":"center","titleBaseline":"middle"}}}}
 ],
 "resolve":{"scale":{"y":"independent"}}
},
{"width":228,"height":84,"data":{"name":"c15"},
 "mark":{"type":"line","interpolate":"step-after","strokeWidth":2},
 "encoding":{
  "x":{"field":"d","type":"temporal","scale":{"type":"utc","domain":[{"year":2013,"month":3,"date":24,"utc":true},{"year":2023,"month":3,"date":24,"utc":true}]},"axis":{"values":[{"year":2013,"month":3,"date":24,"utc":true},{"year":2014,"month":3,"date":24,"utc":true},{"year":2015,"month":3,"date":24,"utc":true},{"year":2016,"month":3,"date":24,"utc":true},{"year":2017,"month":3,"date":24,"utc":true},{"year":2018,"month":3,"date":24,"utc":true},{"year":2019,"month":3,"date":24,"utc":true},{"year":2020,"month":3,"date":24,"utc":true},{"year":2021,"month":3,"date":24,"utc":true},{"year":2022,"month":3,"date":24,"utc":true},{"year":2023,"month":3,"date":24,"utc":true}],"format":"%Y-%m-%d","labelAngle":-65,"labelAlign":"right","labelBaseline":"middle","labelFontSize":9,"grid":true,"title":null,"labelPadding":2}},
  "y":{"field":"v","type":"quantitative","scale":{"domain":[15000,35000],"nice":false,"zero":false},"axis":{"values":[15000,19000,23000,27000,31000,35000],"format":"d","grid":true,"labelPadding":7,"title":"元/吨","titleAngle":0,"titleX":-22,"titleY":-16,"titleAlign":"center","titleBaseline":"middle"}},
  "color":{"field":"s","type":"nominal","scale":{"domain":["B18","B17"],"range":["#ED7D31","#1F64B8"]},"legend":{"orient":"none","legendX":34,"legendY":-22.5,"columns":1,"symbolType":"M0,0L10,0","symbolSize":25,"symbolStrokeWidth":2,"symbolFillColor":"transparent","labelFontSize":9,"labelOffset":25,"rowPadding":4.5,"title":null,"padding":0,"labelLimit":300,"labelExpr":"datum.label == 'B18' ? '市场价:硼铁:FeB18C0.5:辽宁' : '市场价:硼铁:FeB17C0.5:辽宁'"}}
 }
},

{"width":215,"height":164,"data":{"values":[{}]},"layer":[
 {"mark":{"type":"rule","color":"#F2A774","strokeWidth":1.2},"encoding":{"x":{"datum":-51,"type":"quantitative","scale":{"domain":[0,215],"nice":false,"zero":false},"axis":null},"x2":{"datum":235},"y":{"datum":68,"type":"quantitative","scale":{"domain":[164,0],"nice":false,"zero":false},"axis":null}}},
 {"mark":{"type":"text","text":"资料来源：Wind，湘财证券研究所","align":"left","baseline":"middle","fontSize":9.5,"fontStyle":"italic","font":"Noto Sans CJK SC","color":"#EDA46E"},"encoding":{"x":{"datum":-50,"type":"quantitative","scale":{"domain":[0,215],"nice":false,"zero":false},"axis":null},"y":{"datum":78,"type":"quantitative","scale":{"domain":[164,0],"nice":false,"zero":false},"axis":null}}}
]},
{"width":212,"height":164,"data":{"values":[{}]},"layer":[
 {"mark":{"type":"rule","color":"#F2A774","strokeWidth":1.2},"encoding":{"x":{"datum":-54,"type":"quantitative","scale":{"domain":[0,212],"nice":false,"zero":false},"axis":null},"x2":{"datum":241},"y":{"datum":68,"type":"quantitative","scale":{"domain":[164,0],"nice":false,"zero":false},"axis":null}}},
 {"mark":{"type":"text","text":"资料来源：Wind，湘财证券研究所","align":"left","baseline":"middle","fontSize":9.5,"fontStyle":"italic","font":"Noto Sans CJK SC","color":"#EDA46E"},"encoding":{"x":{"datum":-52,"type":"quantitative","scale":{"domain":[0,212],"nice":false,"zero":false},"axis":null},"y":{"datum":78,"type":"quantitative","scale":{"domain":[164,0],"nice":false,"zero":false},"axis":null}}}
]},

{"width":215,"height":38,"data":{"values":[{}]},"layer":[
 {"mark":{"type":"rule","color":"#F2A06A","strokeWidth":1.2},"encoding":{"x":{"datum":-51,"type":"quantitative","scale":{"domain":[0,215],"nice":false,"zero":false},"axis":null},"x2":{"datum":235},"y":{"datum":0,"type":"quantitative","scale":{"domain":[38,0],"nice":false,"zero":false},"axis":null}}},
 {"mark":{"type":"text","text":"图 16：金属镓价格走势(元/公斤)","align":"left","baseline":"middle","fontSize":12,"fontWeight":"bold","font":"Noto Sans CJK SC","color":"#EE8535"},"encoding":{"x":{"datum":-50,"type":"quantitative","scale":{"domain":[0,215],"nice":false,"zero":false},"axis":null},"y":{"datum":-6,"type":"quantitative","scale":{"domain":[38,0],"nice":false,"zero":false},"axis":null}}}
]},
{"width":212,"height":38,"data":{"values":[{}]},"layer":[
 {"mark":{"type":"rule","color":"#F2A06A","strokeWidth":1.2},"encoding":{"x":{"datum":-54,"type":"quantitative","scale":{"domain":[0,212],"nice":false,"zero":false},"axis":null},"x2":{"datum":241},"y":{"datum":0,"type":"quantitative","scale":{"domain":[38,0],"nice":false,"zero":false},"axis":null}}},
 {"mark":{"type":"text","text":"图 17：国内铌铁 60-A 出厂均价(万元/吨)","align":"left","baseline":"middle","fontSize":12,"fontWeight":"bold","font":"Noto Sans CJK SC","color":"#EE8535"},"encoding":{"x":{"datum":-52,"type":"quantitative","scale":{"domain":[0,212],"nice":false,"zero":false},"axis":null},"y":{"datum":-6,"type":"quantitative","scale":{"domain":[38,0],"nice":false,"zero":false},"axis":null}}}
]},

{"width":215,"height":114,"data":{"name":"c16"},
 "encoding":{
  "x":{"field":"m","type":"quantitative","scale":{"domain":[1,13],"range":[10,215],"nice":false,"zero":false},"axis":{"values":[1,2,3,4,5,6,7,8,9,10,11,12,13],"labelExpr":"datum.value < 13 ? (datum.value < 10 ? '0' : '') + datum.value + '月' : ''","labelAngle":-45,"labelAlign":"right","labelBaseline":"middle","grid":true,"title":null,"labelPadding":2}},
  "y":{"field":"v","type":"quantitative","scale":{"domain":[0,4000],"nice":false,"zero":false},"axis":{"values":[0,1000,2000,3000,4000],"format":"d","offset":-10,"grid":true,"title":null,"labelPadding":7}},
  "color":{"field":"s","type":"nominal","scale":{"domain":["2023年","2022年","2021年","2020年","2019年","2018年","2017年","2016年"],"range":["#F39A4C","#1F3864","#22B5E8","#2E7BCF","#FF2A2A","#262626","#7030A0","#D0202E"]},"legend":{"orient":"none","legendX":12,"legendY":-27,"columns":3,"direction":"horizontal","symbolType":"M0,0L12,0","symbolSize":25,"symbolStrokeWidth":2,"symbolFillColor":"transparent","labelFontSize":9.5,"labelOffset":30,"columnPadding":4,"rowPadding":0.5,"title":null,"padding":0,"labelLimit":200}},
  "strokeDash":{"field":"s","type":"nominal","scale":{"domain":["2023年","2022年","2021年","2020年","2019年","2018年","2017年","2016年"],"range":[[1,0],[1,0],[2,2],[2.5,2],[2,2],[2,2],[2,2],[2,2]]},"legend":{"orient":"none","legendX":12,"legendY":-27,"columns":3,"direction":"horizontal","symbolType":"M0,0L12,0","symbolSize":25,"symbolStrokeWidth":2,"symbolFillColor":"transparent","labelFontSize":9.5,"labelOffset":30,"columnPadding":4,"rowPadding":0.5,"title":null,"padding":0,"labelLimit":200}}
 },
 "layer":[
  {"transform":[{"filter":"datum.s != '2023年' && datum.s != '2022年'"}],"mark":{"type":"line","strokeWidth":1.6,"strokeCap":"butt"}},
  {"transform":[{"filter":"datum.s == '2023年' || datum.s == '2022年'"}],"mark":{"type":"line","strokeWidth":2.2}}
 ]
},
{"width":212,"height":114,"data":{"name":"c17"},
 "encoding":{
  "x":{"field":"m","type":"quantitative","scale":{"domain":[1,13],"nice":false,"zero":false},"axis":{"values":[1,2,3,4,5,6,7,8,9,10,11,12,13],"labelExpr":"datum.value < 13 ? (datum.value < 10 ? '0' : '') + datum.value + '月' : ''","labelAngle":-45,"labelAlign":"right","labelBaseline":"middle","grid":true,"title":null,"labelPadding":2}},
  "y":{"field":"v","type":"quantitative","scale":{"domain":[20,35],"nice":false,"zero":false},"axis":{"values":[20,25,30,35],"grid":true,"title":null,"labelPadding":7}},
  "color":{"field":"s","type":"nominal","scale":{"domain":["2023年","2022年","2021年","2020年","2019年","2018年","2017年","2016年"],"range":["#F39A4C","#1F3864","#22B5E8","#2E7BCF","#FF2A2A","#262626","#7030A0","#D0202E"]},"legend":{"orient":"none","legendX":9,"legendY":-27,"columns":3,"direction":"horizontal","symbolType":"M0,0L12,0","symbolSize":25,"symbolStrokeWidth":2,"symbolFillColor":"transparent","labelFontSize":9.5,"labelOffset":30,"columnPadding":4,"rowPadding":0.5,"title":null,"padding":0,"labelLimit":200}},
  "strokeDash":{"field":"s","type":"nominal","scale":{"domain":["2023年","2022年","2021年","2020年","2019年","2018年","2017年","2016年"],"range":[[1,0],[1,0],[2,2],[2.5,2],[2,2],[2,2],[2,2],[2,2]]},"legend":{"orient":"none","legendX":9,"legendY":-27,"columns":3,"direction":"horizontal","symbolType":"M0,0L12,0","symbolSize":25,"symbolStrokeWidth":2,"symbolFillColor":"transparent","labelFontSize":9.5,"labelOffset":30,"columnPadding":4,"rowPadding":0.5,"title":null,"padding":0,"labelLimit":200}}
 },
 "layer":[
  {"transform":[{"filter":"datum.s != '2023年' && datum.s != '2022年'"}],"mark":{"type":"line","strokeWidth":1.6,"strokeCap":"butt"}},
  {"transform":[{"filter":"datum.s == '2023年' || datum.s == '2022年'"}],"mark":{"type":"line","strokeWidth":2.2}}
 ]
},

{"width":215,"height":130,"data":{"values":[{}]},"layer":[
 {"mark":{"type":"rule","color":"#F2A774","strokeWidth":1.2},"encoding":{"x":{"datum":-51,"type":"quantitative","scale":{"domain":[0,215],"nice":false,"zero":false},"axis":null},"x2":{"datum":235},"y":{"datum":38.5,"type":"quantitative","scale":{"domain":[130,0],"nice":false,"zero":false},"axis":null}}},
 {"mark":{"type":"text","text":"资料来源：Wind ，湘财证券研究所","align":"left","baseline":"middle","fontSize":9.5,"fontStyle":"italic","font":"Noto Sans CJK SC","color":"#EDA46E"},"encoding":{"x":{"datum":-50,"type":"quantitative","scale":{"domain":[0,215],"nice":false,"zero":false},"axis":null},"y":{"datum":48.5,"type":"quantitative","scale":{"domain":[130,0],"nice":false,"zero":false},"axis":null}}},
 {"mark":{"type":"rule","color":"#F5A623","strokeWidth":2.5,"strokeCap":"butt","strokeDash":[105,12,67,11,131,11,123,11,76,7,53,100]},"encoding":{"x":{"datum":-52,"type":"quantitative","scale":{"domain":[0,215],"nice":false,"zero":false},"axis":null},"x2":{"datum":555},"y":{"datum":108,"type":"quantitative","scale":{"domain":[130,0],"nice":false,"zero":false},"axis":null}}},
 {"mark":{"type":"rule","color":"#FFE600","strokeWidth":2.5,"strokeCap":"butt","strokeDash":[0,211,37,203,7,28,38,13,10,15,11,1000]},"encoding":{"x":{"datum":-52,"type":"quantitative","scale":{"domain":[0,215],"nice":false,"zero":false},"axis":null},"x2":{"datum":555},"y":{"datum":108,"type":"quantitative","scale":{"domain":[130,0],"nice":false,"zero":false},"axis":null}}},
 {"mark":{"type":"rule","color":"#595965","strokeWidth":2.5,"strokeCap":"butt","strokeDash":[0,181,3,11,7,59,11,7,7,36,4,11,7,82,11,7,7,20,7,76,8,1000]},"encoding":{"x":{"datum":-52,"type":"quantitative","scale":{"domain":[0,215],"nice":false,"zero":false},"axis":null},"x2":{"datum":555},"y":{"datum":108,"type":"quantitative","scale":{"domain":[130,0],"nice":false,"zero":false},"axis":null}}},
 {"mark":{"type":"rule","color":"#E07020","strokeWidth":2.5,"strokeCap":"butt","strokeDash":[0,286,7,51,65,1000]},"encoding":{"x":{"datum":-52,"type":"quantitative","scale":{"domain":[0,215],"nice":false,"zero":false},"axis":null},"x2":{"datum":555},"y":{"datum":108,"type":"quantitative","scale":{"domain":[130,0],"nice":false,"zero":false},"axis":null}}},
 {"mark":{"type":"text","text":"敬请阅读末页之重要声明","align":"left","baseline":"middle","fontSize":10.5,"font":"Noto Sans CJK SC","fontWeight":300,"color":"#E59A66"},"encoding":{"x":{"datum":-52,"type":"quantitative","scale":{"domain":[0,215],"nice":false,"zero":false},"axis":null},"y":{"datum":116,"type":"quantitative","scale":{"domain":[130,0],"nice":false,"zero":false},"axis":null}}},
 {"mark":{"type":"text","text":"3","align":"center","baseline":"middle","fontSize":9.5,"font":"Liberation Serif","color":"#B0305A"},"encoding":{"x":{"datum":547,"type":"quantitative","scale":{"domain":[0,215],"nice":false,"zero":false},"axis":null},"y":{"datum":125,"type":"quantitative","scale":{"domain":[130,0],"nice":false,"zero":false},"axis":null}}}
]},
{"width":212,"height":130,"data":{"values":[{}]},"layer":[
 {"mark":{"type":"rule","color":"#F2A774","strokeWidth":1.2},"encoding":{"x":{"datum":-54,"type":"quantitative","scale":{"domain":[0,212],"nice":false,"zero":false},"axis":null},"x2":{"datum":241},"y":{"datum":38.5,"type":"quantitative","scale":{"domain":[130,0],"nice":false,"zero":false},"axis":null}}},
 {"mark":{"type":"text","text":"资料来源：Wind，湘财证券研究所","align":"left","baseline":"middle","fontSize":9.5,"fontStyle":"italic","font":"Noto Sans CJK SC","color":"#EDA46E"},"encoding":{"x":{"datum":-52,"type":"quantitative","scale":{"domain":[0,212],"nice":false,"zero":false},"axis":null},"y":{"datum":48.5,"type":"quantitative","scale":{"domain":[130,0],"nice":false,"zero":false},"axis":null}}}
]}
]
}
